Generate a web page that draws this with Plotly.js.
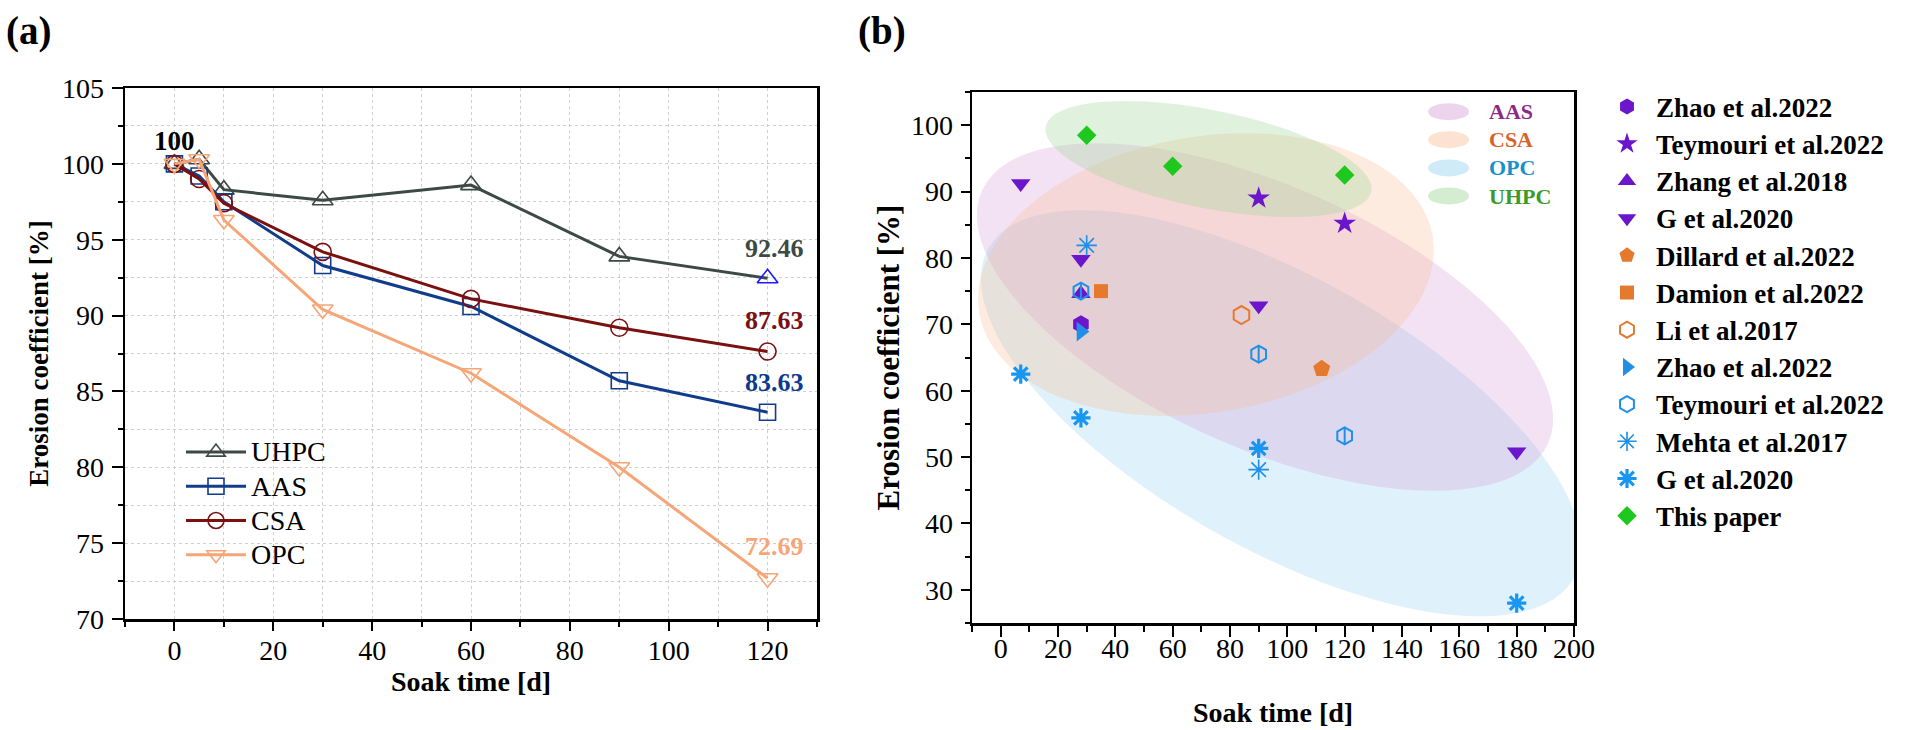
<!DOCTYPE html>
<html><head><meta charset="utf-8">
<script src="https://cdn.plot.ly/plotly-3.0.1.min.js"></script>
<style>html,body{margin:0;padding:0;background:#fff;} #chart{width:1906px;height:730px;}</style>
</head><body><div id="chart"></div>
<script>
// ---------- Panel (a) data ----------
const soakDays = [0, 5, 10, 30, 60, 90, 120];
const uhpcVals = [100, 100.3, 98.3, 97.6, 98.6, 93.9, 92.46];
const aasVals  = [100, 99.2, 97.5, 93.3, 90.6, 85.7, 83.63];
const csaVals  = [100, 99.0, 97.4, 94.2, 91.1, 89.2, 87.63];
const opcVals  = [100, 100.3, 96.3, 90.4, 86.2, 80.0, 72.69];
const seriesNamesA = ['UHPC', 'AAS', 'CSA', 'OPC'];

// ---------- Panel (b) data ----------
const zhaoAASx = [28],               zhaoAASy = [70];
const teymAASx = [90, 120],          teymAASy = [89, 85.2];
const zhangAASx = [28],              zhangAASy = [74.6];
const gAASx = [7, 28, 90, 180],      gAASy = [91.2, 79.8, 72.8, 50.8];
const dillardx = [112],              dillardy = [63.3];
const damionx = [35],                damiony = [75];
const lix = [84],                    liy = [71.4];
const zhaoOPCx = [28],               zhaoOPCy = [68.9];
const teymOPCx = [28, 90, 120],      teymOPCy = [75, 65.5, 53.2];
const mehtax = [30, 90],             mehtay = [81.9, 48.1];
const gOPCx = [7, 28, 90, 180],      gOPCy = [62.5, 55.9, 51.3, 28];
const thisx = [30, 60, 120],         thisy = [98.5, 93.8, 92.5];
const groupNames = ['AAS', 'CSA', 'OPC', 'UHPC'];

// ---------- layout geometry ----------
const W = 1906, H = 730;
const FONT = 'Liberation Serif, Times New Roman, serif';
const ax = {x0: 125, x1: 817, y0: 88, y1: 619, xr: [-10, 130], yr: [70, 105]};
const bx = {x0: 972, x1: 1574, y0: 92, y1: 623, xr: [-10, 200], yr: [25, 105]};
const pxPerDayB = (bx.x1 - bx.x0) / (bx.xr[1] - bx.xr[0]);
const pxPerUnitB = (bx.y1 - bx.y0) / (bx.yr[1] - bx.yr[0]);

const colA = {UHPC: '#3d4944', AAS: '#103c8c', CSA: '#7a1010', OPC: '#f6a577'};
const PURPLE = '#6c16cc', ORANGE = '#e57a2e', BLUE = '#1f8fe8', GREEN = '#1fc81f';

function lineTrace(name, ys, sym, size, markerLineColors) {
  return {
    type: 'scatter', mode: 'lines+markers', x: soakDays, y: ys,
    name: '<span style="font-size:28px">' + name + '</span>',
    xaxis: 'x', yaxis: 'y', legend: 'legend', cliponaxis: false,
    line: {color: colA[name], width: 3},
    marker: {symbol: sym, size: size, color: 'rgba(255,255,255,0)',
             line: {color: markerLineColors || colA[name], width: 1.6}}
  };
}
const uhpcMarkerCols = soakDays.map((d, i) => i === soakDays.length - 1 ? '#1a1aff' : colA.UHPC);
const traces = [
  lineTrace('UHPC', uhpcVals, 'triangle-up', 18, uhpcMarkerCols),
  lineTrace('AAS', aasVals, 'square', 16),
  lineTrace('CSA', csaVals, 'circle', 17),
  lineTrace('OPC', opcVals, 'triangle-down', 18)
];

function pts(name, xs, ys, sym, color, size, extra) {
  return {type: 'scatter', mode: 'markers', x: xs, y: ys,
    name: '<span style="font-size:27px">' + name + '</span>',
    xaxis: 'x2', yaxis: 'y2', legend: 'legend2',
    marker: Object.assign({symbol: sym, size: size, color: color, line: {width: 0}}, extra || {})};
}
traces.push(
  pts('Zhao et al.2022', zhaoAASx, zhaoAASy, 'hexagon', PURPLE, 18),
  pts('Teymouri et al.2022', teymAASx, teymAASy, 'star', PURPLE, 17),
  pts('Zhang et al.2018', zhangAASx, zhangAASy, 'triangle-up', PURPLE, 17),
  pts('G et al.2020', gAASx, gAASy, 'triangle-down', PURPLE, 17),
  pts('Dillard et al.2022', dillardx, dillardy, 'pentagon', ORANGE, 18),
  pts('Damion et al.2022', damionx, damiony, 'square', ORANGE, 14),
  pts('Li et al.2017', lix, liy, 'hexagon-open', ORANGE, 18, {line: {color: ORANGE, width: 2}}),
  pts('Zhao et al.2022', zhaoOPCx, zhaoOPCy, 'triangle-right', BLUE, 17),
  pts('Teymouri et al.2022', teymOPCx, teymOPCy, 'hexagon-open', BLUE, 17, {line: {color: BLUE, width: 2}}),
  pts('Mehta et al.2017', mehtax, mehtay, 'asterisk-open', BLUE, 17, {line: {color: BLUE, width: 1.6}}),
  pts('G et al.2020', gOPCx, gOPCy, 'asterisk-open', '#1896f0', 16, {line: {color: '#1896f0', width: 3.2}}),
  pts('This paper', thisx, thisy, 'diamond', GREEN, 15)
);
// vertical bar inside the open hexagon symbols (Teymouri OPC)
const bar = pts('Teymouri et al.2022', teymOPCx, teymOPCy, 'line-ns-open', BLUE, 12, {line: {color: BLUE, width: 2}});
bar.showlegend = false;
traces.push(bar);

// ---------- group ellipses in panel (b) (center in data units, semi-axes in px, tilt deg) ----------
const ellipseCenters = {AAS: [92.2, 71.1], CSA: [71.6, 77.5], OPC: [97.8, 56.6], UHPC: [72.5, 94.9]};
const ellipseAxes = {AAS: [310, 131, 24], CSA: [230, 138, -9.6], OPC: [336, 136, 29.4], UHPC: [166, 49, 11.3]};
const ellipseFill = {AAS: 'rgba(214,160,214,0.30)', CSA: 'rgba(248,190,150,0.30)',
                     OPC: 'rgba(150,210,240,0.30)', UHPC: 'rgba(160,215,150,0.32)'};
const swatchFill = {AAS: 'rgba(214,160,214,0.45)', CSA: 'rgba(248,190,150,0.45)',
                    OPC: 'rgba(150,210,240,0.45)', UHPC: 'rgba(160,215,150,0.45)'};
const groupText = {AAS: '#8a2a86', CSA: '#d9622a', OPC: '#1a8fc8', UHPC: '#3a9a2a'};

function ellipsePath(c, a, b, deg) {
  const th = deg * Math.PI / 180, n = 90;
  let p = '';
  for (let i = 0; i <= n; i++) {
    const t = 2 * Math.PI * i / n;
    const dx = a * Math.cos(t) * Math.cos(th) - b * Math.sin(t) * Math.sin(th);
    const dy = a * Math.cos(t) * Math.sin(th) + b * Math.sin(t) * Math.cos(th);
    const xd = c[0] + dx / pxPerDayB, yd = c[1] - dy / pxPerUnitB;
    p += (i === 0 ? 'M' : 'L') + xd.toFixed(3) + ',' + yd.toFixed(3);
  }
  return p + 'Z';
}
const shapes = [];
['OPC', 'AAS', 'CSA', 'UHPC'].forEach(g => {
  const e = ellipseAxes[g];
  shapes.push({type: 'path', xref: 'x2', yref: 'y2', layer: 'below',
    path: ellipsePath(ellipseCenters[g], e[0], e[1], e[2]),
    fillcolor: ellipseFill[g], line: {width: 0}});
});
const annotations = [];
// group key (swatches + labels) inside panel (b)
groupNames.forEach((g, i) => {
  const cy = 111.7 + i * 28.1;
  shapes.push({type: 'circle', xref: 'paper', yref: 'paper', layer: 'above',
    x0: 1428 / W, x1: 1469 / W, y0: 1 - (cy + 8.5) / H, y1: 1 - (cy - 8.5) / H,
    fillcolor: swatchFill[g], line: {width: 0}});
  annotations.push({xref: 'paper', yref: 'paper', x: 1487 / W, y: 1 - cy / H,
    xanchor: 'left', yanchor: 'middle', showarrow: false, text: '<b>' + g + '</b>',
    font: {family: FONT, size: 22, color: groupText[g]}});
});

// ---------- value labels in panel (a) ----------
const lastIdx = soakDays.length - 1;
annotations.push({xref: 'x', yref: 'y', x: 0, y: 101.5, text: '<b>100</b>', showarrow: false,
  font: {family: FONT, size: 27, color: '#000'}});
const endLabelY = {UHPC: 94.45, AAS: 85.6, CSA: 89.7, OPC: 74.8};
const endVals = {UHPC: uhpcVals, AAS: aasVals, CSA: csaVals, OPC: opcVals};
seriesNamesA.forEach(s => {
  annotations.push({xref: 'x', yref: 'y', x: 121.5, y: endLabelY[s],
    text: '<b>' + endVals[s][lastIdx].toFixed(2) + '</b>', showarrow: false,
    font: {family: FONT, size: 26, color: s === 'AAS' ? '#0e3a8e' : colA[s]}});
});
// panel tags
annotations.push({xref: 'paper', yref: 'paper', x: 4 / W, y: 1 - 31 / H, xanchor: 'left', yanchor: 'middle',
  text: '<b>(a)</b>', showarrow: false, font: {family: FONT, size: 39, color: '#000'}});
annotations.push({xref: 'paper', yref: 'paper', x: 856 / W, y: 1 - 31 / H, xanchor: 'left', yanchor: 'middle',
  text: '<b>(b)</b>', showarrow: false, font: {family: FONT, size: 39, color: '#000'}});

const tickFont = {family: FONT, size: 28, color: '#000'};
const gridStyle = {gridcolor: '#cfcfcf', griddash: 'dot', gridwidth: 1};

const layout = {
  width: W, height: H, margin: {l: 0, r: 0, t: 0, b: 0}, autosize: false,
  paper_bgcolor: '#fff', plot_bgcolor: 'rgba(0,0,0,0)', showlegend: true,
  font: {family: FONT, color: '#000'},
  xaxis: Object.assign({domain: [ax.x0 / W, ax.x1 / W], range: ax.xr, anchor: 'y',
    tick0: 0, dtick: 20, ticks: 'outside', ticklen: 9, tickwidth: 2, tickcolor: '#000',
    showgrid: true, zeroline: false, showline: true, linewidth: 2.5, linecolor: '#000', mirror: true,
    tickfont: tickFont, ticklabelstandoff: -4,
    minor: Object.assign({dtick: 10, tick0: 0, ticks: 'outside', ticklen: 5, tickwidth: 2, tickcolor: '#000', showgrid: true}, gridStyle),
    title: {text: '<b>Soak time [d]</b>', font: {family: FONT, size: 28, color: '#000'}, standoff: 2}}, gridStyle),
  yaxis: Object.assign({domain: [1 - ax.y1 / H, 1 - ax.y0 / H], range: ax.yr, anchor: 'x',
    tick0: 0, dtick: 5, ticks: 'outside', ticklen: 11, tickwidth: 2, tickcolor: '#000',
    showgrid: true, zeroline: false, showline: true, linewidth: 2.5, linecolor: '#000', mirror: true,
    tickfont: tickFont, ticklabelstandoff: 2,
    minor: Object.assign({dtick: 2.5, tick0: 0, ticks: 'outside', ticklen: 5, tickwidth: 2, tickcolor: '#000', showgrid: true}, gridStyle),
    title: {text: '<b>Erosion coefficient [%]</b>', font: {family: FONT, size: 27, color: '#000'}, standoff: 6}}, gridStyle),
  xaxis2: {domain: [bx.x0 / W, bx.x1 / W], range: bx.xr, anchor: 'y2',
    tick0: 0, dtick: 20, ticks: 'outside', ticklen: 11, tickwidth: 2, tickcolor: '#000',
    showgrid: false, zeroline: false, showline: true, linewidth: 2.5, linecolor: '#000', mirror: true,
    tickfont: tickFont, ticklabelstandoff: -12,
    minor: {dtick: 10, tick0: 0, ticks: 'outside', ticklen: 6, tickwidth: 2, tickcolor: '#000', showgrid: false},
    title: {text: '<b>Soak time [d]</b>', font: {family: FONT, size: 28, color: '#000'}, standoff: 40}},
  yaxis2: {domain: [1 - bx.y1 / H, 1 - bx.y0 / H], range: bx.yr, anchor: 'x2',
    tick0: 0, dtick: 10, ticks: 'outside', ticklen: 9, tickwidth: 2, tickcolor: '#000',
    showgrid: false, zeroline: false, showline: true, linewidth: 2.5, linecolor: '#000', mirror: true,
    tickfont: tickFont, ticklabelstandoff: 2,
    minor: {dtick: 5, tick0: 0, ticks: 'outside', ticklen: 5, tickwidth: 2, tickcolor: '#000', showgrid: false},
    title: {text: '<b>Erosion coefficient [%]</b>', font: {family: FONT, size: 31, color: '#000'}, standoff: 2}},
  legend: {x: 181 / W, y: 1 - 430 / H, xanchor: 'left', yanchor: 'top', bgcolor: 'rgba(0,0,0,0)',
    font: {family: FONT, size: 24, color: '#000'}, itemwidth: 60, tracegroupgap: 0},
  legend2: {x: 1598 / W, y: 1 - 83 / H, xanchor: 'left', yanchor: 'top', bgcolor: 'rgba(0,0,0,0)',
    font: {family: FONT, size: 26.3, color: '#000', weight: 'bold'}, itemwidth: 48, tracegroupgap: 0},
  shapes: shapes, annotations: annotations
};

Plotly.newPlot('chart', traces, layout, {displayModeBar: false, staticPlot: true});
</script>
</body></html>
